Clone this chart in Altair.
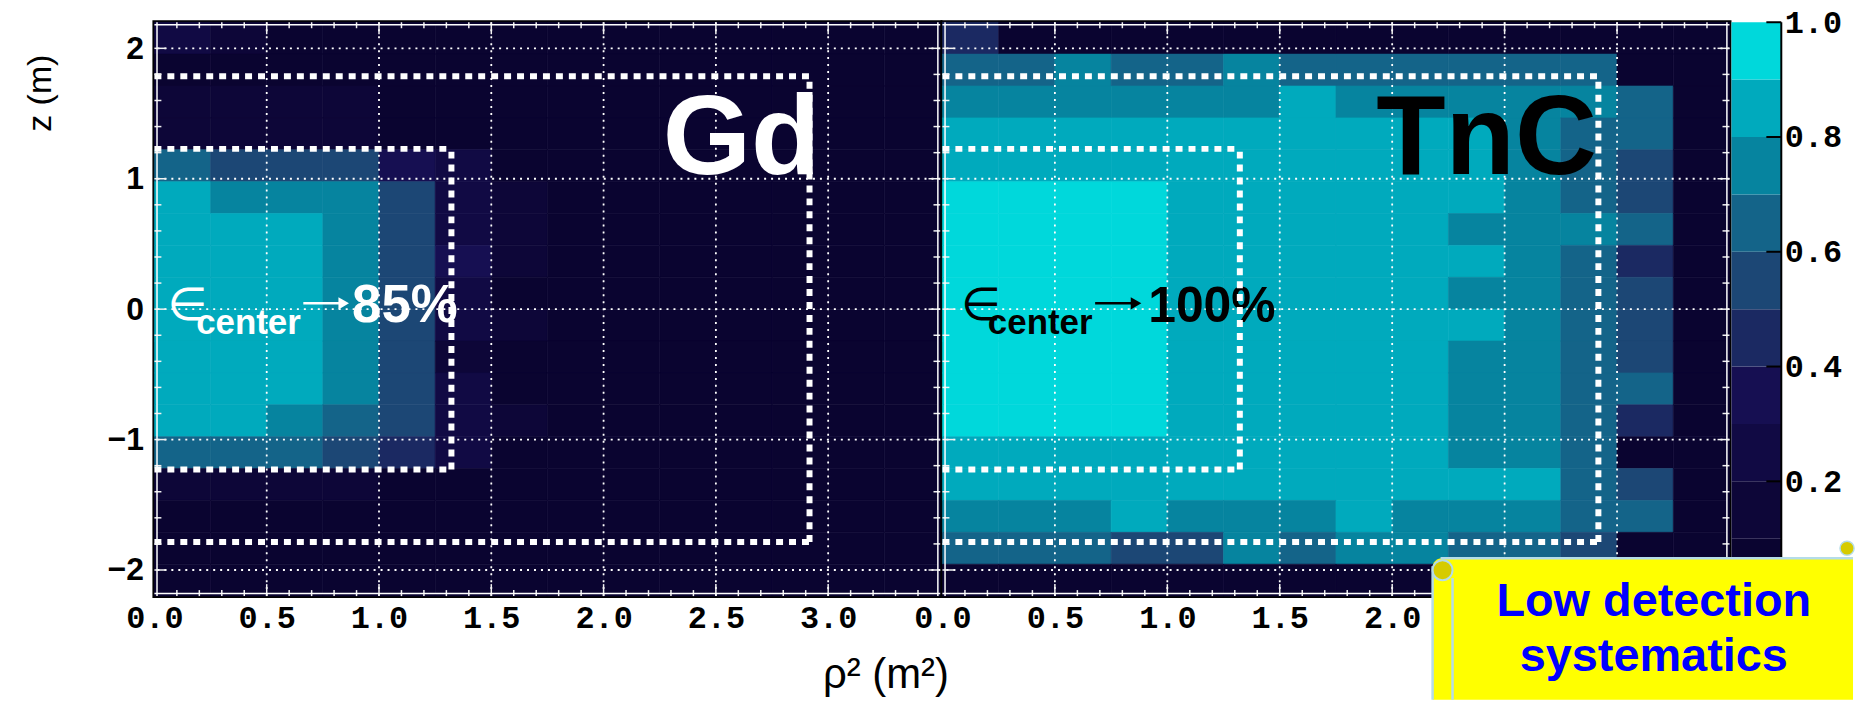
import altair as alt
import pandas as pd

# ---------------- data ----------------
RHO2_EDGES = [0.0, 0.25, 0.5, 0.75, 1.0, 1.25, 1.5, 1.75, 2.0, 2.25, 2.5, 2.75, 3.0, 3.25, 3.5]
Z_EDGES = [2.2, 1.9556, 1.7111, 1.4667, 1.2222, 0.9778, 0.7333, 0.4889, 0.2444, 0.0,
           -0.2444, -0.4889, -0.7333, -0.9778, -1.2222, -1.4667, -1.7111, -1.9556, -2.2]

# efficiency per cell, rows from top (z=2.2) to bottom, columns rho2 = 0 .. 3.5
GD_EFF = [
    [0.25, 0.15, 0.08, 0.08, 0.05, 0.05, 0.05, 0.05, 0.05, 0.05, 0.05, 0.05, 0.05, 0.05],
    [0.08, 0.05, 0.05, 0.05, 0.05, 0.05, 0.05, 0.05, 0.05, 0.05, 0.05, 0.05, 0.05, 0.05],
    [0.12, 0.12, 0.12, 0.12, 0.05, 0.05, 0.05, 0.05, 0.05, 0.05, 0.05, 0.05, 0.05, 0.05],
    [0.15, 0.15, 0.15, 0.15, 0.08, 0.08, 0.05, 0.05, 0.05, 0.05, 0.05, 0.05, 0.05, 0.05],
    [0.65, 0.55, 0.55, 0.55, 0.38, 0.22, 0.08, 0.05, 0.05, 0.05, 0.05, 0.05, 0.05, 0.05],
    [0.85, 0.75, 0.75, 0.75, 0.55, 0.25, 0.12, 0.05, 0.05, 0.05, 0.05, 0.05, 0.05, 0.05],
    [0.85, 0.85, 0.85, 0.75, 0.55, 0.25, 0.12, 0.05, 0.05, 0.05, 0.05, 0.05, 0.05, 0.05],
    [0.85, 0.85, 0.85, 0.75, 0.55, 0.35, 0.15, 0.05, 0.05, 0.05, 0.05, 0.05, 0.05, 0.05],
    [0.85, 0.85, 0.85, 0.75, 0.55, 0.25, 0.08, 0.05, 0.05, 0.05, 0.05, 0.05, 0.05, 0.05],
    [0.85, 0.85, 0.85, 0.75, 0.55, 0.22, 0.12, 0.05, 0.05, 0.05, 0.05, 0.05, 0.05, 0.05],
    [0.85, 0.85, 0.85, 0.75, 0.55, 0.18, 0.05, 0.05, 0.05, 0.05, 0.05, 0.05, 0.05, 0.05],
    [0.85, 0.85, 0.85, 0.75, 0.55, 0.22, 0.08, 0.05, 0.05, 0.05, 0.05, 0.05, 0.05, 0.05],
    [0.85, 0.85, 0.75, 0.65, 0.55, 0.25, 0.12, 0.05, 0.05, 0.05, 0.05, 0.05, 0.05, 0.05],
    [0.65, 0.65, 0.65, 0.55, 0.45, 0.25, 0.05, 0.05, 0.05, 0.05, 0.05, 0.05, 0.05, 0.05],
    [0.15, 0.15, 0.15, 0.15, 0.05, 0.05, 0.05, 0.05, 0.05, 0.05, 0.05, 0.05, 0.05, 0.05],
    [0.08, 0.08, 0.05, 0.05, 0.05, 0.05, 0.05, 0.05, 0.05, 0.05, 0.05, 0.05, 0.05, 0.05],
    [0.05, 0.05, 0.05, 0.05, 0.05, 0.05, 0.05, 0.05, 0.05, 0.05, 0.05, 0.05, 0.05, 0.05],
    [0.05, 0.05, 0.05, 0.05, 0.05, 0.05, 0.05, 0.05, 0.05, 0.05, 0.05, 0.05, 0.05, 0.05],
]

TNC_EFF = [
    [0.45, 0.05, 0.05, 0.05, 0.05, 0.05, 0.05, 0.05, 0.05, 0.05, 0.05, 0.05, 0.05, 0.05],
    [0.65, 0.65, 0.75, 0.65, 0.65, 0.75, 0.65, 0.65, 0.65, 0.65, 0.65, 0.65, 0.05, 0.05],
    [0.75, 0.75, 0.75, 0.75, 0.75, 0.75, 0.85, 0.75, 0.75, 0.75, 0.75, 0.75, 0.65, 0.05],
    [0.85, 0.85, 0.85, 0.85, 0.85, 0.85, 0.85, 0.85, 0.85, 0.85, 0.75, 0.65, 0.65, 0.05],
    [0.85, 0.85, 0.85, 0.85, 0.85, 0.85, 0.85, 0.85, 0.85, 0.85, 0.75, 0.65, 0.55, 0.05],
    [0.95, 0.95, 0.95, 0.95, 0.85, 0.85, 0.85, 0.85, 0.85, 0.85, 0.75, 0.65, 0.55, 0.05],
    [0.95, 0.95, 0.95, 0.95, 0.85, 0.85, 0.85, 0.85, 0.85, 0.75, 0.75, 0.75, 0.65, 0.05],
    [0.95, 0.95, 0.95, 0.95, 0.85, 0.85, 0.85, 0.85, 0.85, 0.85, 0.75, 0.65, 0.45, 0.05],
    [0.95, 0.95, 0.95, 0.95, 0.85, 0.85, 0.85, 0.85, 0.85, 0.75, 0.75, 0.65, 0.55, 0.05],
    [0.95, 0.95, 0.95, 0.95, 0.85, 0.85, 0.85, 0.85, 0.85, 0.85, 0.75, 0.65, 0.55, 0.05],
    [0.95, 0.95, 0.95, 0.95, 0.85, 0.85, 0.85, 0.85, 0.85, 0.75, 0.75, 0.65, 0.55, 0.05],
    [0.95, 0.95, 0.95, 0.95, 0.85, 0.85, 0.85, 0.85, 0.85, 0.75, 0.75, 0.65, 0.65, 0.05],
    [0.95, 0.95, 0.95, 0.95, 0.85, 0.85, 0.85, 0.85, 0.85, 0.75, 0.75, 0.65, 0.45, 0.05],
    [0.85, 0.85, 0.85, 0.85, 0.85, 0.85, 0.85, 0.85, 0.85, 0.75, 0.75, 0.65, 0.05, 0.05],
    [0.85, 0.85, 0.85, 0.85, 0.85, 0.85, 0.85, 0.85, 0.85, 0.85, 0.85, 0.65, 0.55, 0.05],
    [0.75, 0.75, 0.75, 0.85, 0.75, 0.75, 0.75, 0.85, 0.75, 0.75, 0.75, 0.65, 0.65, 0.05],
    [0.65, 0.65, 0.65, 0.55, 0.55, 0.75, 0.65, 0.75, 0.75, 0.65, 0.65, 0.55, 0.05, 0.05],
    [0.05, 0.05, 0.05, 0.05, 0.05, 0.05, 0.05, 0.05, 0.05, 0.05, 0.05, 0.05, 0.05, 0.05],
]

# colour palette (10 discrete levels of 0.1)
LEVELS = [0.1, 0.2, 0.3, 0.4, 0.5, 0.6, 0.7, 0.8, 0.9]
LEVEL_COLORS = ["#0A0430", "#0D0638", "#110A44", "#160F52", "#1B2962",
                "#1C4775", "#146489", "#06849F", "#00AABD", "#00D8DB"]
CB_EDGES = [0.0, 0.1, 0.2, 0.3, 0.4, 0.5, 0.6, 0.7, 0.8, 0.9, 1.0]
CB_LABELS = [0.2, 0.4, 0.6, 0.8, 1.0]

# axes
GD_X_LABELS = [0.0, 0.5, 1.0, 1.5, 2.0, 2.5, 3.0]
TNC_X_LABELS = [0.0, 0.5, 1.0, 1.5, 2.0]      # the rest sits under the note
Z_LABELS = [-2, -1, 0, 1, 2]
GRID_RHO2 = [0.5, 1.0, 1.5, 2.0, 2.5, 3.0]
GRID_Z = [-2, -1, 0, 1, 2]
X_MAJOR = [0.5, 1.0, 1.5, 2.0, 2.5, 3.0]
X_MINOR = [round(0.1 * i, 1) for i in range(1, 35) if i % 5]
Z_MAJOR = [-2, -1, 0, 1, 2]
Z_MINOR = [round(0.2 * i, 1) for i in range(-10, 11) if i % 5]

# detector volumes (rho2 extent, half height): target and gamma catcher
DET_SEGMENTS = [
    {"x": 0.0, "x2": 1.3225, "z": 1.229, "z2": 1.229},
    {"x": 1.3225, "x2": 1.3225, "z": -1.229, "z2": 1.229},
    {"x": 0.0, "x2": 1.3225, "z": -1.229, "z2": -1.229},
    {"x": 0.0, "x2": 2.917, "z": 1.786, "z2": 1.786},
    {"x": 2.917, "x2": 2.917, "z": -1.786, "z2": 1.786},
    {"x": 0.0, "x2": 2.917, "z": -1.786, "z2": -1.786},
]

# annotations (text, rho2, z)
GD_NAME = ("Gd", 2.614, 1.036)
TNC_NAME = ("TnC", 2.42, 1.036)
GD_EPS = [("∈", 0.058, -0.085), ("center", 0.186, -0.19), ("85%", 0.88, -0.1)]
TNC_EPS = [("∈", 0.082, -0.085), ("center", 0.202, -0.19), ("100%", 0.915, -0.1)]
# arrow "→" (rho2 start, rho2 end, z)
GD_ARROW = (0.663, 0.868, 0.045)
TNC_ARROW = (0.679, 0.886, 0.045)

# ---------------- layout ----------------
H = 576
W_GD = 789
W_TNC = 790
CB_W = 50
TICK = "#F2F2F2"

XS = alt.Scale(domain=[0, 3.5], nice=False, zero=False)
YS = alt.Scale(domain=[-2.2, 2.2], nice=False, zero=False)
CSCALE = alt.Scale(type="threshold", domain=LEVELS, range=LEVEL_COLORS)
ONE = pd.DataFrame({"k": [0]})


def cells(eff):
    rows = []
    for r, row in enumerate(eff):
        for c, v in enumerate(row):
            rows.append({"x": RHO2_EDGES[c], "x2": RHO2_EDGES[c + 1],
                         "z": Z_EDGES[r + 1], "z2": Z_EDGES[r], "eff": v})
    return pd.DataFrame(rows)


def panel(eff, W, name, name_color, eps, arrow, eps_color, eps_big_size, first):
    if first:
        xaxis = alt.Axis(values=GD_X_LABELS, format=".1f", labelFont="Liberation Mono",
                         labelFontWeight="bold", labelFontSize=32, labelColor="black",
                         labelPadding=7, labelFlush=False, ticks=False, domain=False, grid=False,
                         title="ρ² (m²)", titleFont="Liberation Sans", titleFontWeight="normal",
                         titleFontSize=42, titleColor="black", titleAnchor="end",
                         titleBaseline="alphabetic", titleY=92, titleX=W + 8)
        yaxis = alt.Axis(values=Z_LABELS, format="d", labelFont="Liberation Sans",
                         labelFontWeight="bold", labelFontSize=32, labelColor="black",
                         labelPadding=11, labelFlush=False, ticks=False, domain=False, grid=False,
                         title="z (m)", titleFont="Liberation Sans", titleFontWeight="normal",
                         titleFontSize=34, titleColor="black", titleAnchor="end",
                         titleY=32, titlePadding=50)
    else:
        xaxis = alt.Axis(values=TNC_X_LABELS, format=".1f", labelFont="Liberation Mono",
                         labelFontWeight="bold", labelFontSize=32, labelColor="black",
                         labelPadding=7, labelFlush=False, ticks=False, domain=False, grid=False,
                         title=None)
        yaxis = None

    def X(f):
        return alt.X(f, scale=XS, axis=xaxis)

    def Y(f):
        return alt.Y(f, scale=YS, axis=yaxis)

    heat = alt.Chart(cells(eff)).mark_rect(strokeWidth=0.6).encode(
        x=X("x:Q"), x2="x2:Q",
        y=Y("z:Q"), y2="z2:Q",
        fill=alt.Fill("eff:Q", scale=CSCALE, legend=None),
        stroke=alt.Stroke("eff:Q", scale=CSCALE, legend=None),
    )

    gx = alt.Chart(pd.DataFrame({"g": GRID_RHO2})).mark_rule(
        color="white", strokeDash=[2, 5], strokeWidth=1.8).encode(x=X("g:Q"))
    gy = alt.Chart(pd.DataFrame({"g": GRID_Z})).mark_rule(
        color="white", strokeDash=[2, 5], strokeWidth=1.8).encode(y=Y("g:Q"))

    def txt(t, x, z, **kw):
        return alt.Chart(pd.DataFrame([{"x": x, "z": z, "t": t}])).mark_text(**kw).encode(
            x=X("x:Q"), y=Y("z:Q"), text="t:N")

    texts = [
        txt(name[0], name[1], name[2], font="Liberation Sans", fontWeight="bold", fontSize=114,
            color=name_color, align="center", baseline="alphabetic"),
        txt(eps[0][0], eps[0][1], eps[0][2], font="DejaVu Sans", fontSize=46,
            color=eps_color, align="left", baseline="alphabetic"),
        txt(eps[1][0], eps[1][1], eps[1][2], font="Liberation Sans", fontWeight="bold", fontSize=35,
            color=eps_color, align="left", baseline="alphabetic"),
        txt(eps[2][0], eps[2][1], eps[2][2], font="Liberation Sans", fontWeight="bold",
            fontSize=eps_big_size, color=eps_color, align="left", baseline="alphabetic"),
    ]

    arr_df = pd.DataFrame([{"x": arrow[0], "x2": arrow[1] - 0.02, "z": arrow[2], "z2": arrow[2]}])
    arr_shaft = alt.Chart(arr_df).mark_rule(color=eps_color, strokeWidth=2.6).encode(
        x=X("x:Q"), x2="x2:Q", y=Y("z:Q"), y2="z2:Q")
    head_df = pd.DataFrame([{"x": arrow[1] - 0.025, "z": arrow[2]}])
    arr_head = alt.Chart(head_df).mark_point(shape="triangle-right", filled=True, size=150,
                                             color=eps_color, opacity=1).encode(
        x=X("x:Q"), y=Y("z:Q"))

    det = alt.Chart(pd.DataFrame(DET_SEGMENTS)).mark_rule(
        color="white", strokeWidth=6, strokeDash=[7, 6], strokeCap="butt").encode(
        x=X("x:Q"), x2="x2:Q", y=Y("z:Q"), y2="z2:Q")

    ticks = []
    for vals, ln in ((X_MAJOR, 12), (X_MINOR, 6)):
        base = alt.Chart(pd.DataFrame({"t": vals})).mark_rule(color=TICK, strokeWidth=1.5)
        ticks.append(base.encode(x=X("t:Q"), y=alt.value(H), y2=alt.value(H - ln)))
        ticks.append(base.encode(x=X("t:Q"), y=alt.value(0), y2=alt.value(ln)))
    for vals, ln in ((Z_MAJOR, 12), (Z_MINOR, 7)):
        base = alt.Chart(pd.DataFrame({"t": vals})).mark_rule(color=TICK, strokeWidth=1.5)
        ticks.append(base.encode(y=Y("t:Q"), x=alt.value(0), x2=alt.value(ln)))
        ticks.append(base.encode(y=Y("t:Q"), x=alt.value(W), x2=alt.value(W - ln)))

    fr = alt.Chart(ONE).mark_rule(color="white", strokeWidth=1.5)
    frame = [
        fr.encode(x=alt.value(2.6), y=alt.value(0), y2=alt.value(H)),
        fr.encode(x=alt.value(W - 2.6), y=alt.value(0), y2=alt.value(H)),
        fr.encode(y=alt.value(2.6), x=alt.value(0), x2=alt.value(W)),
        fr.encode(y=alt.value(H - 2.6), x=alt.value(0), x2=alt.value(W)),
    ]

    return alt.layer(heat, gx, gy, *texts, arr_shaft, arr_head, det, *ticks, *frame).properties(
        width=W, height=H, view=alt.ViewBackground(stroke="black", strokeWidth=4))


gd = panel(GD_EFF, W_GD, GD_NAME, "white", GD_EPS, GD_ARROW, "white", 53, True)
tnc = panel(TNC_EFF, W_TNC, TNC_NAME, "black", TNC_EPS, TNC_ARROW, "black", 50, False)

# ---------------- colour bar + note ----------------
CBS = alt.Scale(domain=[0, 1], nice=False, zero=False)
CB_AXIS = alt.Axis(orient="right", values=CB_LABELS, format=".1f", labelFont="Liberation Mono",
                   labelFontWeight="bold", labelFontSize=32, labelColor="black", labelPadding=3,
                   labelFlush=False, ticks=False, domain=False, grid=False, title=None, zindex=0)
bands = pd.DataFrame({"lo": CB_EDGES[:-1], "hi": CB_EDGES[1:], "col": LEVEL_COLORS})
bar = alt.Chart(bands).mark_rect().encode(
    y=alt.Y("lo:Q", scale=CBS, axis=CB_AXIS),
    y2="hi:Q",
    x=alt.value(0), x2=alt.value(CB_W),
    color=alt.Color("col:N", scale=None),
)
cb_ticks = alt.Chart(pd.DataFrame({"t": CB_LABELS})).mark_rule(color="black", strokeWidth=2).encode(
    y=alt.Y("t:Q", scale=CBS, axis=CB_AXIS), x=alt.value(CB_W - 15), x2=alt.value(CB_W))
cb_line = alt.Chart(ONE).mark_rule(color="black", strokeWidth=2).encode(
    x=alt.value(CB_W), y=alt.value(0), y2=alt.value(H))

NOTE_LINES = ["Low detection", "systematics"]
NOTE_EDGE = "#B5DCE8"
NL, NR, NT, NB = -300, 122, 538, 680
note_box = alt.Chart(ONE).mark_rect(fill="#FFFF00", cornerRadiusTopLeft=9).encode(
    x=alt.value(NL), x2=alt.value(NR), y=alt.value(NT), y2=alt.value(NB))
ne = alt.Chart(ONE).mark_rule(color=NOTE_EDGE, strokeWidth=2.5)
note_edges = [
    ne.encode(x=alt.value(NL + 8), x2=alt.value(NR), y=alt.value(NT)),
    ne.encode(x=alt.value(NL), y=alt.value(NT + 8), y2=alt.value(NB)),
    ne.encode(x=alt.value(NL + 20), y=alt.value(NT + 20), y2=alt.value(NB)),
]
note_curl = alt.Chart(ONE).mark_point(shape="circle", filled=True, size=400, fill="#D6CB00",
                                      stroke=NOTE_EDGE, strokeWidth=2, opacity=1).encode(
    x=alt.value(NL + 10), y=alt.value(NT + 12))
note_curl2 = alt.Chart(ONE).mark_point(shape="circle", filled=True, size=200, fill="#D6CB00",
                                       stroke=NOTE_EDGE, strokeWidth=1.5, opacity=1).encode(
    x=alt.value(NR - 6), y=alt.value(NT - 10))
note_t1 = alt.Chart(ONE).mark_text(text=NOTE_LINES[0], font="Liberation Sans", fontWeight="bold",
                                   fontSize=47, color="#0000FF", align="center",
                                   baseline="alphabetic").encode(
    x=alt.value(-78), y=alt.value(596))
note_t2 = alt.Chart(ONE).mark_text(text=NOTE_LINES[1], font="Liberation Sans", fontWeight="bold",
                                   fontSize=47, color="#0000FF", align="center",
                                   baseline="alphabetic").encode(
    x=alt.value(-78), y=alt.value(651))

cb = alt.layer(bar, cb_ticks, cb_line, note_box, *note_edges, note_curl, note_curl2,
               note_t1, note_t2).properties(width=CB_W, height=H)

chart = alt.hconcat(gd, tnc, cb, spacing=2, bounds="flush").properties(
    padding={"left": 21, "top": 5, "right": 0, "bottom": 0},
    background="white",
).configure_view(strokeWidth=0)

chart.save("out.html", embed_options={"renderer": "svg", "actions": False})
